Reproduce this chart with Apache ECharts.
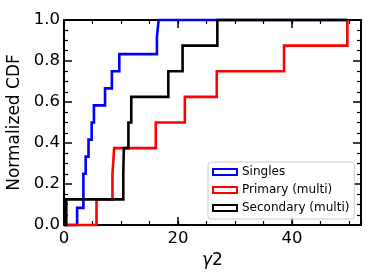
<!DOCTYPE html>
<html><head><meta charset="utf-8">
<script src="https://cdn.jsdelivr.net/npm/echarts@6/dist/echarts.min.js"></script>
<style>html,body{margin:0;padding:0;background:#fff}#c{width:374px;height:280px}</style>
</head><body><div id="c"></div>
<script>
const seriesNames = ['Singles', 'Primary (multi)', 'Secondary (multi)'];
const singles = [2.3, 3.4, 3.4, 3.8, 4.3, 4.85, 5.25, 7.2, 8.4, 9.7, 16.3, 16.6];
const primary = [5.7, 8.5, 8.8, 16.1, 21.2, 26.8, 38.6, 49.7];
const secondary = [0.4, 10.4, 10.5, 11.3, 11.8, 18.3, 20.8, 26.9];
const xMajorTicks = [0, 20, 40];
const colors = ['#0000ff', '#ff0000', '#000000'];
const xMin = 0, xMax = 52.1, xEnd = 49.7;

function cdf(arr) {
  const s = [...arr].sort((a, b) => a - b);
  const n = s.length;
  const pts = [[0, 0]];
  s.forEach((x, i) => { pts.push([x, i / n]); pts.push([x, (i + 1) / n]); });
  pts.push([xEnd, 1]);
  return pts;
}
const F = 'DejaVu Sans';
const lineCol = '#000';
function xAxisMaj(pos, labels) {
  return {
    type: 'value', gridIndex: 0, position: pos, min: xMin, max: xMax, interval: 20,
    axisLine: { show: true, onZero: false, lineStyle: { color: lineCol, width: 2 } },
    axisTick: { show: true, inside: true, length: 8, lineStyle: { color: lineCol, width: 1.5 } },
    minorTick: { show: false },
    splitLine: { show: false },
    axisLabel: { show: labels, margin: 5, color: '#000', fontSize: 16.5, fontFamily: F,
      formatter: v => (xMajorTicks.indexOf(v) >= 0 ? String(v) : '') },
    name: labels ? '{i|γ}2' : '', nameLocation: 'middle', nameGap: 23,
    nameTextStyle: { color: '#000', fontSize: 17, fontFamily: F,
      rich: { i: { fontStyle: 'italic', fontSize: 17, fontFamily: F, color: '#000' } } }
  };
}
function xAxisMin(pos) {
  return {
    type: 'value', gridIndex: 1, position: pos, min: xMin, max: xMax, interval: 5,
    axisLine: { show: false, onZero: false },
    axisTick: { show: true, inside: true, length: 4, lineStyle: { color: lineCol, width: 1.2 } },
    minorTick: { show: false }, splitLine: { show: false }, axisLabel: { show: false }
  };
}
function yAxisDef(pos, labels) {
  return {
    type: 'value', gridIndex: 0, position: pos, min: 0, max: 1, interval: 0.2,
    axisLine: { show: true, onZero: false, lineStyle: { color: lineCol, width: 2 } },
    axisTick: { show: true, inside: true, length: 8, lineStyle: { color: lineCol, width: 1.5 } },
    minorTick: { show: true, splitNumber: 4, length: 4, lineStyle: { color: lineCol, width: 1.2 } },
    splitLine: { show: false },
    axisLabel: { show: labels, margin: 4, color: '#000', fontSize: 16.5, fontFamily: F,
      formatter: v => v.toFixed(1) },
    name: labels ? 'Normalized CDF' : '', nameLocation: 'middle', nameGap: 37,
    nameTextStyle: { color: '#000', fontSize: 17, fontFamily: F }
  };
}
const grid = { left: 64, right: 13, top: 20, bottom: 55, outerBoundsMode: 'none', containLabel: false };
const chart = echarts.init(document.getElementById('c'), null, { renderer: 'canvas' });
const dataSets = [singles, primary, secondary];
chart.setOption({
  animation: false,
  backgroundColor: '#fff',
  grid: [Object.assign({}, grid), Object.assign({}, grid)],
  xAxis: [xAxisMaj('bottom', true), xAxisMaj('top', false), xAxisMin('bottom'), xAxisMin('top')],
  yAxis: [yAxisDef('left', true), yAxisDef('right', false),
    { type: 'value', gridIndex: 1, min: 0, max: 1, show: false }],
  legend: {
    orient: 'vertical', left: 208, top: 162, itemWidth: 24, itemHeight: 6, itemGap: 6,
    padding: [4, 5, 5, 4], borderColor: '#cccccc', borderWidth: 1, borderRadius: 3,
    backgroundColor: 'rgba(255,255,255,0.8)', z: 50,
    textStyle: { color: '#000', fontSize: 12, fontFamily: F },
    data: seriesNames.map((n, i) => ({ name: n, icon: 'rect',
      itemStyle: { color: '#ffffff', borderColor: colors[i], borderWidth: 2 } }))
  },
  series: dataSets.map((d, i) => ({
    name: seriesNames[i], type: 'line', xAxisIndex: 0, yAxisIndex: 0,
    data: cdf(d), showSymbol: false, symbol: 'none', clip: false,
    lineStyle: { color: colors[i], width: 2.6, join: 'miter', cap: 'butt' },
    itemStyle: { color: colors[i] }, z: 10 * (i + 1)
  }))
});
</script></body></html>
